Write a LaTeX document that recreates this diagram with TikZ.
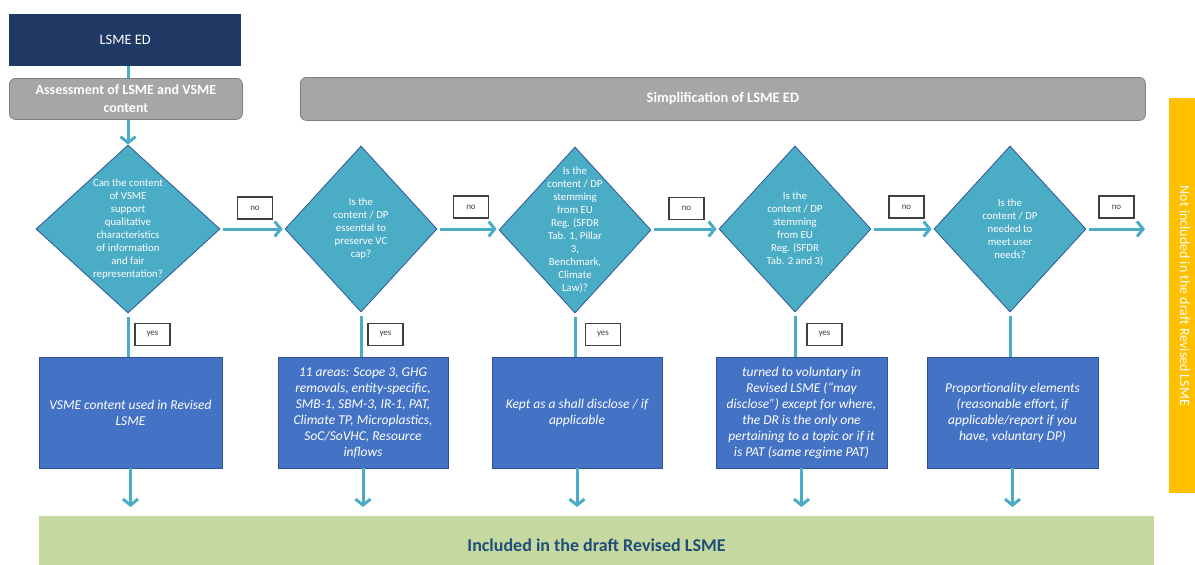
\documentclass[tikz,border=0pt]{standalone}
\usepackage{fontspec}
\setmainfont{Carlito}
\usetikzlibrary{shapes.geometric,arrows.meta}
\definecolor{navy}{HTML}{1F3864}
\definecolor{grayfill}{HTML}{A6A6A6}
\definecolor{grayline}{HTML}{7F7F7F}
\definecolor{aqua}{HTML}{4BACC6}
\definecolor{diaborder}{HTML}{2F5597}
\definecolor{boxblue}{HTML}{4472C4}
\definecolor{boxborder}{HTML}{2F528F}
\definecolor{greenfill}{HTML}{C5D89F}
\definecolor{greentext}{HTML}{1F4E79}
\definecolor{yellowfill}{HTML}{FFC000}
\definecolor{labline}{HTML}{404040}
\begin{document}
\begin{tikzpicture}[x=1pt,y=-1pt,
  conn/.style={draw=aqua, line width=3pt},
  arr/.style={draw=aqua, line width=3pt, -{Straight Barb[length=6pt,width=15pt,line width=3pt]}},
  dia/.style={diamond, draw=diaborder, fill=aqua, line width=0.8pt, inner sep=0pt, minimum width=152pt, minimum height=166pt},
  dtext/.style={align=center, text=white, inner sep=0pt, font=\fontsize{10.8}{13}\selectfont},
  bluebox/.style={rectangle, draw=boxborder, fill=boxblue, line width=0.8pt, minimum height=111pt, text=white, align=center, inner sep=0pt, font=\itshape\fontsize{13.5}{16}\selectfont},
  header/.style={rectangle, rounded corners=6pt, draw=grayline, fill=grayfill, line width=0.8pt, text=white, align=center, inner sep=0pt, font=\bfseries\fontsize{14}{18}\selectfont},
  lab/.style={rectangle, draw=labline, fill=white, line width=1.2pt, minimum width=35pt, minimum height=22pt, inner sep=0pt, text=labline, font=\fontsize{9}{10}\selectfont}
]
\clip (0,0) rectangle (1195,565);
\fill[white] (0,0) rectangle (1195,565);

% top boxes
\node[rectangle, fill=navy, minimum width=232pt, minimum height=52pt, inner sep=0pt, anchor=north west, text=white, font=\fontsize{14.4}{17}\selectfont] (lsme) at (9,14) {LSME ED};
\node[header, minimum width=233pt, minimum height=41pt, anchor=north west] (assess) at (9,78) {Assessment of LSME and VSME\\content};
\node[header, minimum width=845pt, minimum height=43pt, anchor=north west, font=\bfseries\fontsize{14.4}{18}\selectfont] (simp) at (300,77) {Simplification of LSME ED};

% yellow side bar
\node[rectangle, fill=yellowfill, minimum width=34pt, minimum height=395pt, anchor=north west, inner sep=0pt] (side) at (1169,98) {};
\node[rotate=-90, text=white, font=\fontsize{14}{16}\selectfont, inner sep=0pt] (sidet) at (1185,296) {Not included in the draft Revised LSME};

% green bottom bar
\node[rectangle, fill=greenfill, minimum width=1115pt, minimum height=58pt, anchor=north west, inner sep=0pt] (green) at (39,516) {};
\node[text=greentext, font=\bfseries\fontsize{18}{21}\selectfont, inner sep=0pt] (greent) at (596.5,545) {Included in the draft Revised LSME};

% diamonds
\node[dia, minimum width=184pt, minimum height=168pt] (d1) at (128,229) {};
\node[dia] (d2) at (361,229) {};
\node[dia] (d3) at (575,230) {};
\node[dia] (d4) at (795,229) {};
\node[dia] (d5) at (1010,229) {};

\node[dtext] (d1t) at (d1) {Can the content\\of VSME\\support\\qualitative\\characteristics\\of information\\and fair\\representation?};
\node[dtext] (d2t) at (d2) {Is the\\content / DP\\essential to\\preserve VC\\cap?};
\node[dtext] (d3t) at (d3) {Is the\\content / DP\\stemming\\from EU\\Reg. (SFDR\\Tab. 1, Pillar\\3,\\Benchmark,\\Climate\\Law)?};
\node[dtext] (d4t) at (d4) {Is the\\content / DP\\stemming\\from EU\\Reg. (SFDR\\Tab. 2 and 3)};
\node[dtext] (d5t) at (d5) {Is the\\content / DP\\needed to\\meet user\\needs?};

% blue boxes
\node[bluebox, minimum width=183pt] (b1) at (130.5,412.5) {VSME content used in Revised\\LSME};
\node[bluebox, minimum width=170pt] (b2) at (363,412.5) {11 areas: Scope 3, GHG\\removals, entity-specific,\\SMB-1, SBM-3, IR-1, PAT,\\Climate TP, Microplastics,\\SoC/SoVHC, Resource\\inflows};
\node[bluebox, minimum width=170pt] (b3) at (577,412.5) {Kept as a shall disclose / if\\applicable};
\node[bluebox, minimum width=171pt] (b4) at (801.5,412.5) {turned to voluntary in\\Revised LSME (“may\\disclose”) except for where,\\the DR is the only one\\pertaining to a topic or if it\\is PAT (same regime PAT)};
\node[bluebox, minimum width=171pt] (b5) at (1012.5,412.5) {Proportionality elements\\(reasonable effort, if\\applicable/report if you\\have, voluntary DP)};

% labels
\node[lab] (no1) at (255,208) {no};
\node[lab] (no2) at (471,207) {no};
\node[lab] (no3) at (686.5,208.5) {no};
\node[lab] (no4) at (906.5,207) {no};
\node[lab] (no5) at (1116.5,207) {no};
\node[lab] (yes1) at (152.5,334.5) {yes};
\node[lab] (yes2) at (385.5,334.5) {yes};
\node[lab] (yes3) at (603,334.5) {yes};
\node[lab] (yes4) at (824.5,334.5) {yes};

% connectors top
\draw[conn] (d1.north |- lsme.south) -- (d1.north |- assess.north);
\draw[arr] (d1.north |- assess.south) -- (d1.north);

% horizontal "no" arrows
\coordinate (out) at (1145,229);
\draw[arr, shorten <=3pt, shorten >=2pt] (d1.east) -- (d2.west);
\draw[arr, shorten <=3pt, shorten >=2pt] (d2.east) -- (d3.west |- d2.east);
\draw[arr, shorten <=3pt, shorten >=2pt] (d3.east |- d4.west) -- (d4.west);
\draw[arr, shorten <=3pt, shorten >=2pt] (d4.east) -- (d5.west);
\draw[arr, shorten <=3pt] (d5.east) -- (out);

% vertical "yes" lines
\draw[conn, shorten <=4pt] (d1.south) -- (d1.south |- b1.north);
\draw[conn, shorten <=4pt] (d2.south) -- (d2.south |- b2.north);
\draw[conn, shorten <=4pt] (d3.south) -- (d3.south |- b3.north);
\draw[conn, shorten <=4pt] (d4.south) -- (d4.south |- b4.north);
\draw[conn, shorten <=4pt] (d5.south) -- (d5.south |- b5.north);

% down arrows to green bar
\draw[arr, shorten >=9pt] (b1.south) -- (b1.south |- green.north);
\draw[arr, shorten >=9pt] (b2.south) -- (b2.south |- green.north);
\draw[arr, shorten >=9pt] (b3.south) -- (b3.south |- green.north);
\draw[arr, shorten >=9pt] (b4.south) -- (b4.south |- green.north);
\draw[arr, shorten >=9pt] (b5.south) -- (b5.south |- green.north);
\end{tikzpicture}
\end{document}
